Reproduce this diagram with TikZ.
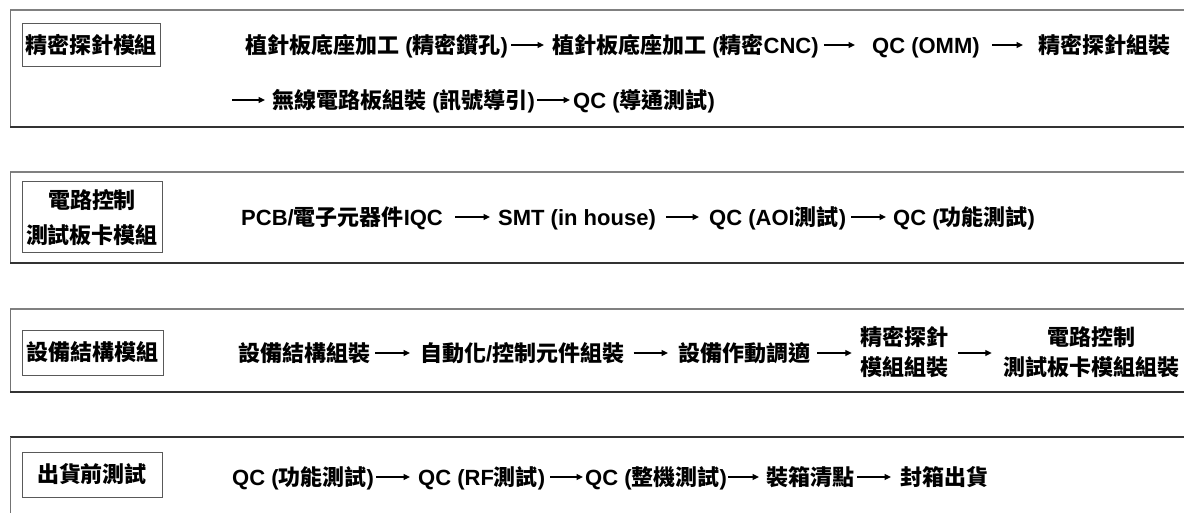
\documentclass[tikz,border=0pt]{standalone}
\usepackage{fontspec}
\setmainfont{Noto Sans CJK TC}
\newfontfamily\latf{Liberation Sans}
\usetikzlibrary{arrows.meta}
\newcommand\lt[1]{{\latf #1}}
\begin{document}
\begin{tikzpicture}[x=1pt,y=-1pt,
  every node/.style={font=\fontsize{22}{30}\selectfont\bfseries, inner sep=0pt, text height=19.4pt, text depth=2.6pt},
  flow/.style={anchor=west},
  multi/.style={align=center, text height={}, text depth={}},
  lbox/.style={draw=black!65, line width=1pt, align=center},
  arr/.style={line width=1.3pt, -{Triangle[length=6.5pt,width=6pt]}},
  ptop/.style={draw=black!50, line width=1.6pt},
  pside/.style={draw=black!55, line width=1pt},
  pbot/.style={draw=black!80, line width=1.4pt},
  ]
\useasboundingbox (0,0) rectangle (1184,513);
% panels
\draw[ptop] (1184,10) -- (10,10);
\draw[pside] (10,10) -- (10,127);
\draw[pbot] (10,127) -- (1184,127);
\draw[ptop] (1184,172) -- (10,172);
\draw[pside] (10,172) -- (10,263);
\draw[pbot] (10,263) -- (1184,263);
\draw[ptop] (1184,309) -- (10,309);
\draw[pside] (10,309) -- (10,392);
\draw[pbot] (10,392) -- (1184,392);
\draw[pbot] (1184,437) -- (10,437);
\draw[pside] (10,437) -- (10,520);
% label boxes
\node[lbox, minimum width=138pt, minimum height=43pt] (l1) at (91,45.5) {精密探針模組};
\node[lbox, multi, minimum width=140pt, minimum height=71pt, font=\fontsize{22}{35}\selectfont\bfseries] (l2) at (92,217.5) {電路控制\\測試板卡模組};
\node[lbox, minimum width=141pt, minimum height=45pt] (l3) at (92.5,352.5) {設備結構模組};
\node[lbox, minimum width=140pt, minimum height=45pt] (l4) at (92,474.5) {出貨前測試};
% panel 1
\node[flow] (a1) at (245,45) {植針板底座加工\lt{ (}精密鑽孔\lt{)}};
\node[flow] (a2) at (552,45) {植針板底座加工\lt{ (}精密\lt{CNC)}};
\node[flow] (a3) at (872,45) {\lt{QC (OMM)}};
\node[flow] (a4) at (1038,45) {精密探針組裝};
\coordinate (r2) at (232,100);
\node[flow] (a5) at (272,100) {無線電路板組裝\lt{ (}訊號導引\lt{)}};
\node[flow] (a6) at (573,100) {\lt{QC (}導通測試\lt{)}};
\draw[arr] ([xshift=3pt]a1.east) -- ([xshift=-8pt]a2.west);
\draw[arr] ([xshift=5pt]a2.east) -- ([xshift=-17pt]a3.west);
\draw[arr] ([xshift=12pt]a3.east) -- ([xshift=-15pt]a4.west);
\draw[arr] (r2) -- ([xshift=-7pt]a5.west);
\draw[arr] ([xshift=2pt]a5.east) -- ([xshift=-3pt]a6.west);
% panel 2
\node[flow] (b1) at (241,217) {\lt{PCB/}電子元器件\lt{IQC}};
\node[flow] (b2) at (498,217) {\lt{SMT (in house)}};
\node[flow] (b3) at (709,217) {\lt{QC (AOI}測試\lt{)}};
\node[flow] (b4) at (893,217) {\lt{QC (}功能測試\lt{)}};
\draw[arr] ([xshift=12pt]b1.east) -- ([xshift=-8pt]b2.west);
\draw[arr] ([xshift=10pt]b2.east) -- ([xshift=-10pt]b3.west);
\draw[arr] ([xshift=5pt]b3.east) -- ([xshift=-7pt]b4.west);
% panel 3
\node[flow] (c1) at (238,353) {設備結構組裝};
\node[flow] (c2) at (420,353) {自動化\lt{/}控制元件組裝};
\node[flow] (c3) at (678,353) {設備作動調適};
\node[multi] (c4) at (904,352) {精密探針\\模組組裝};
\node[multi] (c5) at (1091,352) {電路控制\\測試板卡模組組裝};
\draw[arr] ([xshift=5pt]c1.east) -- ([xshift=-10pt]c2.west);
\draw[arr] ([xshift=9pt]c2.east) -- ([xshift=-10pt]c3.west);
\draw[arr] ([xshift=7pt]c3.east) -- ([xshift=-8pt]c4.west|-c3.east);
\draw[arr] ([xshift=10pt]c4.east|-c3.east) -- ([xshift=-11pt]c5.west|-c3.east);
% panel 4
\node[flow] (d1) at (232,477) {\lt{QC (}功能測試\lt{)}};
\node[flow] (d2) at (418,477) {\lt{QC (RF}測試\lt{)}};
\node[flow] (d3) at (585,477) {\lt{QC (}整機測試\lt{)}};
\node[flow] (d4) at (766,477) {裝箱清點};
\node[flow] (d5) at (900,477) {封箱出貨};
\draw[arr] ([xshift=2pt]d1.east) -- ([xshift=-8pt]d2.west);
\draw[arr] ([xshift=5pt]d2.east) -- ([xshift=-2pt]d3.west);
\draw[arr] ([xshift=1pt]d3.east) -- ([xshift=-7pt]d4.west);
\draw[arr] ([xshift=3pt]d4.east) -- ([xshift=-9pt]d5.west);
\end{tikzpicture}
\end{document}
